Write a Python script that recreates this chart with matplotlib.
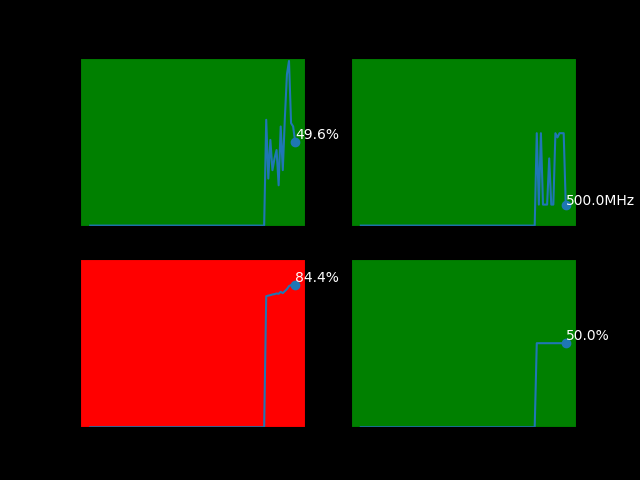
import matplotlib
matplotlib.use('Agg')
import matplotlib.pyplot as plt
import numpy as np

# last 100 samples of each monitor
gpu_load = [0.0] * 85 + [63, 28, 51, 33, 40, 45, 24, 59, 33, 64, 90, 98, 61, 59, 49.6]
gpu_clock = [0.0] * 85 + [2200, 500, 2200, 500, 500, 500, 1600, 500, 500, 2200, 2100, 2200, 2200, 2200, 500]
cpu_load = [0.0] * 85 + [78, 78.3, 78.6, 79, 79.2, 79.6, 79.4, 80.6, 79.8, 81, 82.2, 84, 84.6, 84.4, 84.4]
mem_load = [0.0] * 85 + [50] * 15

series = [gpu_load, gpu_clock, cpu_load, mem_load]
units = ['%', 'MHz', '%', '%']
y_max = [100, 4000, 100, 100]
face_colors = ['green', 'green', 'red', 'green']
label_shift = [0, -3, 0, 0]  # pixels

fig, axs = plt.subplots(2, 2, figsize=(6.4, 4.8), dpi=100)
fig.patch.set_facecolor('black')

for ax, values, unit, top, fc, dy in zip(axs.flat, series, units, y_max, face_colors, label_shift):
    x = np.arange(len(values))
    ax.set_facecolor(fc)
    ax.plot(x, values, color='C0')
    ax.plot(x[-1], values[-1], 'o', color='C0')
    ax.annotate('%.1f%s' % (values[-1], unit), (x[-1], values[-1]), xytext=(0, dy),
                textcoords='offset pixels', color='white', va='bottom', ha='left')
    ax.set_ylim(0, top)
    ax.set_xticks([])
    ax.set_yticks([])

plt.savefig('out.png', facecolor=fig.get_facecolor())
